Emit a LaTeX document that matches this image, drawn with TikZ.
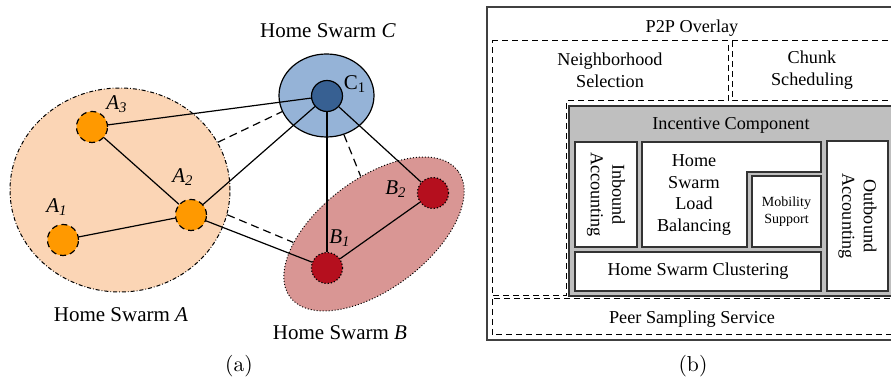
\documentclass[tikz,border=0pt]{standalone}
\usepackage{fontspec}
\newfontfamily\timesfont{Liberation Serif}
\usetikzlibrary{shapes.geometric}
\definecolor{swarmA}{HTML}{FBD5B5}
\definecolor{peerA}{HTML}{FF9900}
\definecolor{swarmB}{HTML}{D99694}
\definecolor{peerB}{HTML}{B50F1E}
\definecolor{swarmC}{HTML}{95B3D7}
\definecolor{peerC}{HTML}{376092}

\begin{document}
\begin{tikzpicture}[x=0.5pt, y=-0.5pt, line width=0.6pt,
        swarm/.style={ellipse, inner sep=0pt},
        peer/.style={circle, inner sep=0pt, minimum size=15.5pt},
        lbl/.style={font=\timesfont\fontsize{10.5}{12}\selectfont, inner sep=0pt},
        weak/.style={dash pattern=on 4pt off 2.5pt},
        layer/.style={densely dashed, line width=0.5pt},
        part/.style={draw=black!80, fill=white, line width=0.7pt},
        txt/.style={font=\timesfont\fontsize{9.1}{10.8}\selectfont, align=center, inner sep=0pt}]
        \path[use as bounding box] (0,0) rectangle (891,378);
        \clip (0,0) rectangle (891,378);

        % (a) home swarms
        \node[swarm, fill=swarmA, draw, line width=0.5pt, dash pattern=on 2pt off 1pt on 0.4pt off 1pt,
            minimum width=110pt, minimum height=102pt] (A) at (120,190) {};
        \node[swarm, fill=swarmC, draw, minimum width=47.5pt, minimum height=41.5pt] (C) at (326.5,95.5) {};
        \node[swarm, fill=swarmB, draw, line width=0.5pt, densely dotted, rotate=37,
            minimum width=105pt, minimum height=55pt] (B) at (374,234) {};

        \node[peer, fill=peerA, draw, densely dashed] (A1) at (63,240) {};
        \node[peer, fill=peerA, draw, densely dashed] (A2) at (191,215) {};
        \node[peer, fill=peerA, draw, densely dashed] (A3) at (92,127) {};
        \node[peer, fill=peerC, draw] (C1) at (327,96) {};
        \node[peer, fill=peerB, draw, densely dotted] (B1) at (327,268) {};
        \node[peer, fill=peerB, draw, densely dotted] (B2) at (433,193) {};

        \draw (A3) -- (C1);
        \draw (A3) -- (A2);
        \draw (A1) -- (A2);
        \draw (A2) -- (C1);
        \draw (A2) -- (B1);
        \draw (C1) -- (B1);
        \draw (C1) -- (B2);
        \draw (B1) -- (B2);
        \draw[weak] (A.26) -- (C.200);
        \draw[weak] (A.-13) -- (B.149);
        \draw[weak] (C.-66) -- (B.66);

        \node[lbl] (A1lbl) at (57,207) {\itshape A\textsubscript{1}};
        \node[lbl] (A2lbl) at (183,177) {\itshape A\textsubscript{2}};
        \node[lbl] (A3lbl) at (117,104) {\itshape A\textsubscript{3}};
        \node[lbl] (C1lbl) at (355,84) {C\textsubscript{1}};
        \node[lbl] (B1lbl) at (340,238) {\itshape B\textsubscript{1}};
        \node[lbl] (B2lbl) at (396,189) {\itshape B\textsubscript{2}};
        \node[lbl] (Albl) at (121,315) {Home Swarm \textit{A}};
        \node[lbl] (Blbl) at (340,333) {Home Swarm \textit{B}};
        \node[lbl] (Clbl) at (328,31) {Home Swarm \textit{C}};
        \node[font=\fontsize{10.8}{13}\selectfont] (capa) at (239,366) {(a)};

        % (b) layers
        \draw[black!75, line width=0.8pt] (487,7) rectangle (900,340);
        \node[txt] (p2p) at (692,28) {P2P Overlay};
        \draw[layer] (492,41) -- (728,41) -- (728,101) -- (566,101) -- (566,296) -- (492,296) -- cycle;
        \node[txt] (nbr) at (610,70) {Neighborhood\\Selection};
        \draw[layer] (732,41) rectangle (900,101);
        \node[txt] (chunk) at (812,70) {Chunk\\Scheduling};
        \draw[layer] (492,299) rectangle (900,335);
        \node[txt] (pss) at (692,319) {Peer Sampling Service};

        \draw[draw=black!80, fill=gray!50, line width=0.8pt] (569,106) rectangle (900,296);
        \node[txt] (incent) at (731,125) {Incentive Component};
        \node[part, txt, rotate=-90, minimum width=52.5pt, minimum height=31pt] (inbound) at (606,194.5) {Inbound\\Accounting};
        \draw[part] (642,142) -- (821,142) -- (821,172) -- (747,172) -- (747,247) -- (642,247) -- cycle;
        \node[txt] (hslb) at (694,195) {Home\\Swarm\\Load\\Balancing};
        \node[part, txt, font=\timesfont\fontsize{7}{8.7}\selectfont, minimum width=34.5pt, minimum height=35.5pt] (mob) at (786.5,211.5) {Mobility\\Support};
        \node[part, txt, minimum width=123pt, minimum height=19.5pt] (hsc) at (698,271.5) {Home Swarm Clustering};
        \node[part, txt, rotate=-90, minimum width=75pt, minimum height=30.5pt] (outbound) at (857.5,216) {Outbound\\Accounting};
        \node[font=\fontsize{10.8}{13}\selectfont] (capb) at (693,366) {(b)};
\end{tikzpicture}
\end{document}
